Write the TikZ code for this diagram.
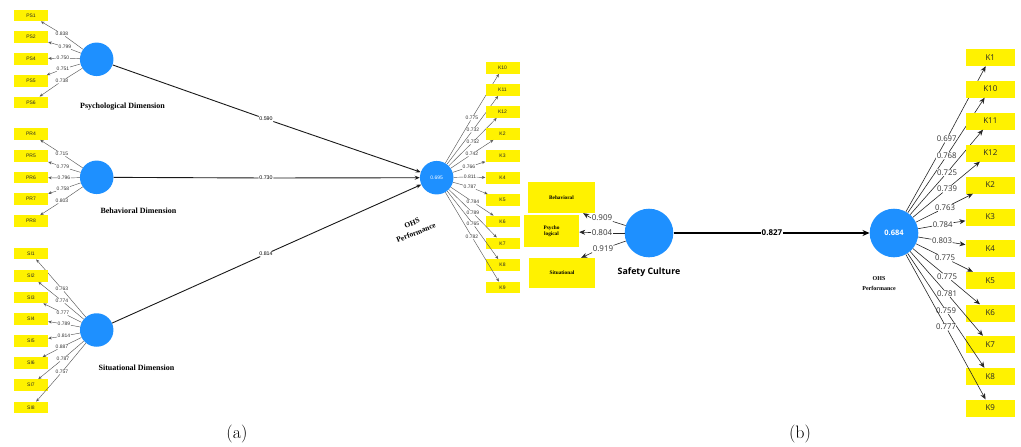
\documentclass[tikz,border=0pt]{standalone}
\usepackage{fontspec}
\newfontfamily\lsans{Liberation Sans}
\newfontfamily\lserif{Liberation Serif}
\newfontfamily\osans{Open Sans}
\usetikzlibrary{arrows.meta}
\definecolor{plsblue}{RGB}{30,144,255}
\begin{document}
\begin{tikzpicture}[x=1pt,y=-1pt,
  indA/.style={fill=yellow, minimum width=34pt, minimum height=11.5pt, inner sep=0pt, text=black!85, font=\lsans\fontsize{5}{6}\selectfont},
  indB/.style={fill=yellow, minimum width=49.3pt, minimum height=17pt, inner sep=0pt, text=black!85, font=\osans\fontsize{8}{9}\selectfont},
  lvA/.style={circle, fill=plsblue, minimum size=33.5pt, inner sep=0pt, text=white, font=\lsans\fontsize{5}{6}\selectfont},
  lvB/.style={circle, fill=plsblue, minimum size=48.6pt, inner sep=0pt, text=white, font=\osans\bfseries\fontsize{7.5}{8}\selectfont},
  loadA/.style={fill=white, inner sep=0.4pt, text=black!80, font=\lsans\fontsize{5}{6}\selectfont},
  loadB/.style={fill=white, inner sep=0.5pt, text=black!80, font=\osans\fontsize{7.8}{9}\selectfont},
  linkA/.style={draw=black!65, line width=0.45pt},
  arrA/.style={linkA, -{Stealth[length=3.5pt,width=3pt]}},
  linkB/.style={draw=black!85, line width=0.6pt},
  arrB/.style={linkB, -{Stealth[length=6pt,width=5pt]}},
  pathA/.style={draw=black!90, line width=0.9pt},
  pathB/.style={draw=black, line width=1.4pt},
  plbl/.style={fill=white, inner sep=0.5pt, text=black, font=\lsans\fontsize{5.3}{6}\selectfont},
  dimlbl/.style={font=\lserif\bfseries\fontsize{8}{9}\selectfont, align=center},
  boxlbl/.style={fill=yellow, inner sep=0pt, align=center, font=\lserif\bfseries\fontsize{5.3}{6}\selectfont},
  capt/.style={font=\fontsize{18}{20}\selectfont}
]
\useasboundingbox (0,0) rectangle (1021,447);

% ---------- (a) ----------
\node[lvA] (psy) at (96.7,59.3) {};
\node[lvA] (beh) at (96.7,177.3) {};
\node[lvA] (sit) at (96.7,330) {};
\node[lvA] (ohsa) at (436.7,177.7) {0.695};

\node[dimlbl] (psyl) at (122.5,107) {Psychological Dimension};
\node[dimlbl] (behl) at (138.5,211) {Behavioral Dimension};
\node[dimlbl] (sitl) at (136.5,368) {Situational Dimension};
\node[dimlbl, font=\lserif\bfseries\fontsize{7.5}{10.5}\selectfont, rotate=22] (ohsal) at (414,228) {OHS\\Performance};

\foreach \t/\y/\v/\lx/\ly in {PS1/15.5/0.838/62/34, PS2/37/0.799/65/47, PS4/59/0.750/63/58, PS5/81/0.751/63/69, PS6/102.5/0.738/62/81}{
  \node[indA] (a\t) at (31,\y) {\t};
  \node[loadA] (la\t) at (\lx,\ly) {\v};
  \draw[linkA] (psy) -- (la\t);
  \draw[arrA] (la\t) -- (a\t);
}
\foreach \t/\y/\v/\lx/\ly in {PR4/134/0.715/62/154, PR5/156/0.779/63/167, PR6/177.5/0.796/64/178, PR7/199/0.758/63/189, PR8/221/0.803/62/201}{
  \node[indA] (a\t) at (31,\y) {\t};
  \node[loadA] (la\t) at (\lx,\ly) {\v};
  \draw[linkA] (beh) -- (la\t);
  \draw[arrA] (la\t) -- (a\t);
}
\foreach \t/\y/\v/\lx/\ly in {SI1/253.5/0.763/62/289, SI2/276/0.774/62/301, SI3/297.5/0.777/63/313, SI4/319/0.789/64/324, SI5/341/0.814/64/336, SI6/363/0.887/62/347, SI7/385/0.787/63/359, SI8/407.5/0.757/62/372}{
  \node[indA] (a\t) at (31,\y) {\t};
  \node[loadA] (la\t) at (\lx,\ly) {\v};
  \draw[linkA] (sit) -- (la\t);
  \draw[arrA] (la\t) -- (a\t);
}
\foreach \t/\y/\v/\lx/\ly in {K10/68/0.775/472/118, K11/90/0.732/473/130, K12/112/0.752/473/142, K2/134/0.742/472/154, K3/156/0.766/469/167, K4/178/0.811/470/177, K5/200/0.787/470/187, K6/221.5/0.784/473/202, K7/243.5/0.789/473/213, K8/265/0.765/473/224, K9/287.5/0.782/472/237}{
  \node[indA] (a\t) at (502.5,\y) {\t};
  \node[loadA] (la\t) at (\lx,\ly) {\v};
  \draw[linkA] (ohsa) -- (la\t);
  \draw[arrA] (la\t) -- (a\t);
}

\node[plbl] (p1) at (266,119) {0.590};
\node[plbl] (p2) at (266,178) {0.730};
\node[plbl] (p3) at (266,254) {0.814};
\draw[pathA] (psy) -- (p1);
\draw[pathA,-{Stealth[length=5pt,width=4pt]}] (p1) -- (ohsa);
\draw[pathA] (beh) -- (p2);
\draw[pathA,-{Stealth[length=5pt,width=4pt]}] (p2) -- (ohsa);
\draw[pathA] (sit) -- (p3);
\draw[pathA,-{Stealth[length=5pt,width=4pt]}] (p3) -- (ohsa);

% ---------- (b) ----------
\node[boxlbl, minimum width=67pt, minimum height=31pt] (bbeh) at (561.5,197.5) {Behavioral};
\node[boxlbl, minimum width=55pt, minimum height=32pt] (bpsy) at (551.5,231) {Psycho\\logical};
\node[boxlbl, minimum width=66pt, minimum height=30pt] (bsit) at (562,273) {Situational};

\node[lvB] (sc) at (649,233) {};
\node[font=\osans\bfseries\fontsize{8.8}{10}\selectfont] (scl) at (649,272) {Safety Culture};

\node[loadB, font=\osans\fontsize{8}{9}\selectfont] (l909) at (602,218) {0.909};
\node[loadB, font=\osans\fontsize{8}{9}\selectfont] (l804) at (602,233) {0.804};
\node[loadB, font=\osans\fontsize{8}{9}\selectfont] (l919) at (603,249) {0.919};
\draw[linkB] (sc) -- (l909);
\draw[linkB] (sc) -- (l804);
\draw[linkB] (sc) -- (l919);
\draw[arrB] (l909.west) -- ([xshift=-12pt]bbeh.south east);
\draw[arrB] (l804) -- (bpsy);
\draw[arrB] (l919.south west) -- ([xshift=-14pt]bsit.north east);

\node[lvB] (ohsb) at (894,233) {0.684};
\node[dimlbl, font=\lserif\bfseries\fontsize{6}{10}\selectfont] (ohsbl) at (879,284) {OHS\\Performance};

\node[fill=white, inner sep=0.5pt, font=\osans\bfseries\fontsize{8}{9}\selectfont] (l827) at (772,233) {0.827};
\draw[pathB] (sc) -- (l827);
\draw[pathB,-{Stealth[length=7pt,width=6pt]}] (l827) -- (ohsb);

\foreach \t/\y/\v/\lx/\ly in {K1/57.5/0.697/946.7/139, K10/89/0.768/946.7/155.7, K11/121/0.725/947/172.7, K12/153/0.739/947/189, K2/185/0.763/945/207.7, K3/217/0.784/942.7/224.3, K4/248.5/0.803/942/241, K5/280.5/0.775/945/258, K6/313/0.775/947/276.7, K7/344.5/0.781/947/293.5, K8/376.5/0.759/946/310.7, K9/408/0.777/946/327}{
  \node[indB] (b\t) at (990.3,\y) {\t};
  \node[loadB] (lb\t) at (\lx,\ly) {\v};
  \draw[linkB] (ohsb) -- (lb\t);
  \draw[arrB] (lb\t) -- (b\t);
}

% captions
\node[capt] (capa) at (237,434) {(a)};
\node[capt] (capb) at (800,434) {(b)};
\end{tikzpicture}
\end{document}
